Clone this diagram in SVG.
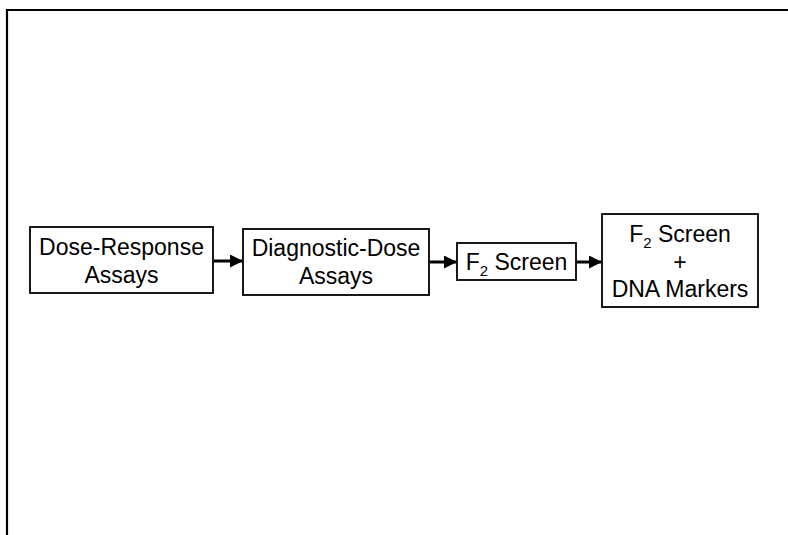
<svg xmlns="http://www.w3.org/2000/svg" width="788" height="535" viewBox="0 0 788 535">
<style>
.box{fill:#fff;stroke:#000;stroke-width:1.8}
.t{font-family:"Liberation Sans",Arial,sans-serif;font-size:23px;fill:#000;text-anchor:middle}
.c{stroke:#000;stroke-width:3;fill:none}
</style>
<defs>
<marker id="ah" markerUnits="userSpaceOnUse" markerWidth="13" markerHeight="13" refX="12" refY="6.5" orient="auto">
<path d="M0,0 L13,6.5 L0,13 Z" fill="#000"/>
</marker>
</defs>
<rect width="788" height="535" fill="#fff"/>
<path d="M7,535 V10 H788" fill="none" stroke="#000" stroke-width="2.2"/>
<g id="connectors">
<line class="c" x1="214" y1="261" x2="242" y2="261" marker-end="url(#ah)"/>
<line class="c" x1="430" y1="262" x2="456" y2="262" marker-end="url(#ah)"/>
<line class="c" x1="577" y1="262" x2="601" y2="262" marker-end="url(#ah)"/>
</g>
<g id="dose-response">
<rect class="box" x="30" y="227" width="183" height="66"/>
<text class="t" x="121.5" y="255">Dose-Response</text>
<text class="t" x="121.5" y="283">Assays</text>
</g>
<g id="diagnostic-dose">
<rect class="box" x="243" y="229" width="186" height="66"/>
<text class="t" x="336" y="256">Diagnostic-Dose</text>
<text class="t" x="336" y="284">Assays</text>
</g>
<g id="f2-screen">
<rect class="box" x="457" y="243" width="119" height="37"/>
<text class="t" x="516.5" y="270">F<tspan font-size="15" dy="6">2</tspan><tspan dy="-6"> Screen</tspan></text>
</g>
<g id="f2-dna">
<rect class="box" x="602" y="214" width="156" height="93"/>
<text class="t" x="680" y="242">F<tspan font-size="15" dy="6">2</tspan><tspan dy="-6"> Screen</tspan></text>
<text class="t" x="680" y="270">+</text>
<text class="t" x="680" y="297">DNA Markers</text>
</g>
</svg>
